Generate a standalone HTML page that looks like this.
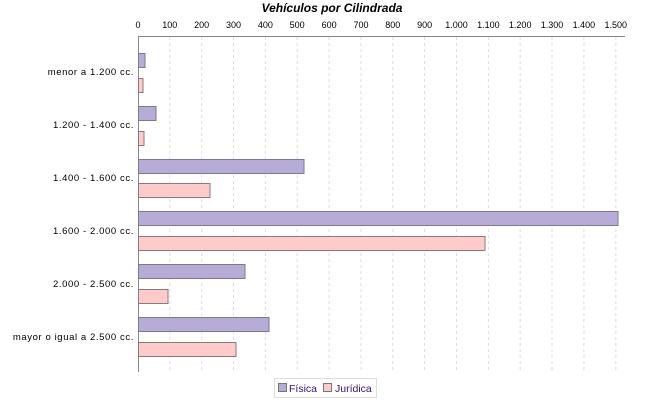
<!DOCTYPE html>
<html><head><meta charset="utf-8"><style>
body{margin:0;background:#fff}
svg text{font-family:"Liberation Sans",sans-serif}
</style></head><body>
<svg width="650" height="400" xmlns="http://www.w3.org/2000/svg">
<text x="332" y="12" text-anchor="middle" font-size="12" font-weight="bold" font-style="italic">Vehículos por Cilindrada</text>
<g stroke="#ddd" stroke-dasharray="3,3">
<line x1="169.8" y1="37" x2="169.8" y2="372"/><line x1="201.7" y1="37" x2="201.7" y2="372"/><line x1="233.5" y1="37" x2="233.5" y2="372"/><line x1="265.4" y1="37" x2="265.4" y2="372"/><line x1="297.2" y1="37" x2="297.2" y2="372"/><line x1="329.1" y1="37" x2="329.1" y2="372"/><line x1="361" y1="37" x2="361" y2="372"/><line x1="392.8" y1="37" x2="392.8" y2="372"/><line x1="424.6" y1="37" x2="424.6" y2="372"/><line x1="456.5" y1="37" x2="456.5" y2="372"/><line x1="488.4" y1="37" x2="488.4" y2="372"/><line x1="520.2" y1="37" x2="520.2" y2="372"/><line x1="552" y1="37" x2="552" y2="372"/><line x1="583.9" y1="37" x2="583.9" y2="372"/><line x1="615.8" y1="37" x2="615.8" y2="372"/>
</g>
<line x1="138" y1="36.5" x2="625" y2="36.5" stroke="#888"/>
<line x1="138.5" y1="36" x2="138.5" y2="372" stroke="#888"/>
<g font-size="9" text-anchor="middle">
<text x="138" y="28">0</text><text x="169.8" y="28">100</text><text x="201.7" y="28">200</text><text x="233.5" y="28">300</text><text x="265.4" y="28">400</text><text x="297.2" y="28">500</text><text x="329.1" y="28">600</text><text x="361" y="28">700</text><text x="392.8" y="28">800</text><text x="424.6" y="28">900</text><text x="456.5" y="28">1.000</text><text x="488.4" y="28">1.100</text><text x="520.2" y="28">1.200</text><text x="552" y="28">1.300</text><text x="583.9" y="28">1.400</text><text x="615.8" y="28">1.500</text>
</g>
<g font-size="9.5" text-anchor="end" letter-spacing="0.6">
<text x="134" y="75">menor a 1.200 cc.</text>
<text x="134" y="128">1.200 - 1.400 cc.</text>
<text x="134" y="181">1.400 - 1.600 cc.</text>
<text x="134" y="234">1.600 - 2.000 cc.</text>
<text x="134" y="287">2.000 - 2.500 cc.</text>
<text x="134" y="340">mayor o igual a 2.500 cc.</text>
</g>
<g fill="#b7acd8" stroke="#7a7a8a">
<rect x="138.5" y="53.5" width="6.5" height="14"/>
<rect x="138.5" y="106.5" width="17.5" height="14"/>
<rect x="138.5" y="159.5" width="165.5" height="14"/>
<rect x="138.5" y="211.5" width="479.5" height="14"/>
<rect x="138.5" y="264.5" width="106.5" height="14"/>
<rect x="138.5" y="317.5" width="130.5" height="14"/>
</g>
<g fill="#ffcaca" stroke="#8a7a7a">
<rect x="138.5" y="78.5" width="4.5" height="14"/>
<rect x="138.5" y="131.5" width="5.5" height="14"/>
<rect x="138.5" y="183.5" width="71.5" height="14"/>
<rect x="138.5" y="236.5" width="346.5" height="14"/>
<rect x="138.5" y="289.5" width="29.5" height="14"/>
<rect x="138.5" y="342.5" width="97.5" height="14"/>
</g>
<rect x="274.5" y="378.5" width="102" height="19" fill="#fff" stroke="#ddd"/>
<rect x="278.5" y="383.5" width="8" height="8" fill="#b7acd8" stroke="#777"/>
<text x="289" y="392" font-size="10.5" fill="#3a1070">Física</text>
<rect x="323.5" y="383.5" width="8" height="8" fill="#ffcaca" stroke="#777"/>
<text x="335" y="392" font-size="10.5" fill="#3a1070">Jurídica</text>
</svg>
</body></html>
